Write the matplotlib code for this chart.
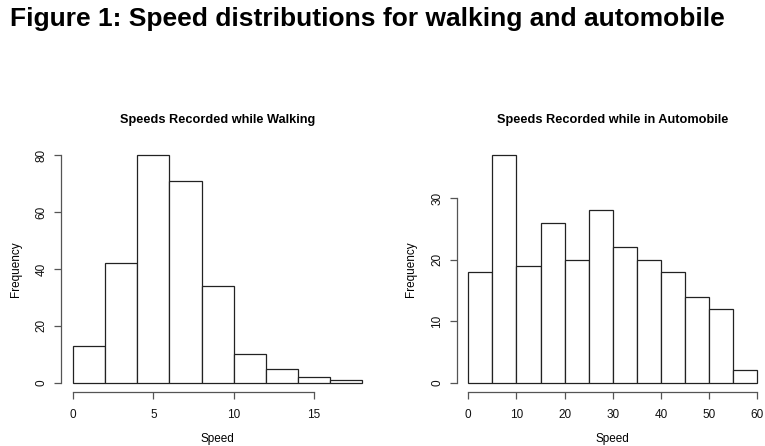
import numpy as np
import matplotlib
matplotlib.use("Agg")
import matplotlib.pyplot as plt

plt.rcParams['font.family'] = ['Liberation Sans', 'DejaVu Sans']

# histogram bins and counts
walk_breaks = [0, 2, 4, 6, 8, 10, 12, 14, 16, 18]
walk_counts = [13, 42, 80, 71, 34, 10, 5, 2, 1]
walk_xticks = [0, 5, 10, 15]
walk_yticks = [0, 20, 40, 60, 80]

auto_breaks = [0, 5, 10, 15, 20, 25, 30, 35, 40, 45, 50, 55, 60]
auto_counts = [18, 37, 19, 26, 20, 28, 22, 20, 18, 14, 12, 2]
auto_xticks = [0, 10, 20, 30, 40, 50, 60]
auto_yticks = [0, 10, 20, 30]

W, H = 765, 446
fig = plt.figure(figsize=(W / 100, H / 100), dpi=100)

fig.text(10 / W, 1 - 19 / H, "Figure 1: Speed distributions for walking and automobile",
         fontsize=19, fontweight='bold', ha='left', va='center')


def r_hist(ax, breaks, counts, xticks, yticks, title):
    """draw an R-style histogram: open boxes, detached axes"""
    breaks = np.array(breaks)
    ax.bar(breaks[:-1], counts, width=np.diff(breaks), align='edge',
           facecolor='white', edgecolor='#222222', linewidth=0.9)
    for s in ['top', 'right']:
        ax.spines[s].set_visible(False)
    ax.spines['left'].set_bounds(yticks[0], yticks[-1])
    ax.spines['bottom'].set_bounds(xticks[0], xticks[-1])
    for s in ['left', 'bottom']:
        ax.spines[s].set_color('#555555')
        ax.spines[s].set_linewidth(0.9)
    ax.set_xticks(xticks)
    ax.set_yticks(yticks)
    ax.tick_params(direction='out', length=4.8, width=0.9, color='#555555',
                   labelsize=8.5, labelcolor='#111111')
    ax.tick_params(axis='x', pad=7.5)
    ax.tick_params(axis='y', pad=5)
    for lab in ax.get_yticklabels():
        lab.set_rotation(90)
        lab.set_va('center')
    ax.set_title(title, fontsize=9.2, fontweight='bold', pad=16.5)
    ax.set_xlabel("Speed", fontsize=8.5, labelpad=9)
    ax.set_ylabel("Frequency", fontsize=8.5, labelpad=10)
    ax.patch.set_visible(False)


# left panel
ax1 = fig.add_axes([61.4 / W, 1 - 391.8 / H, 312.4 / W, 245.4 / H])
r_hist(ax1, walk_breaks, walk_counts, walk_xticks, walk_yticks,
       "Speeds Recorded while Walking")
ax1.set_xlim(-0.72, 18.72)
ax1.set_ylim(-3.2, 83.2)

# right panel
ax2 = fig.add_axes([456.7 / W, 1 - 391.8 / H, 312.1 / W, 245.8 / H])
r_hist(ax2, auto_breaks, auto_counts, auto_xticks, auto_yticks,
       "Speeds Recorded while in Automobile")
ax2.set_xlim(-2.4, 62.4)
ax2.set_ylim(-1.48, 38.48)

fig.savefig("out.png", dpi=100)
